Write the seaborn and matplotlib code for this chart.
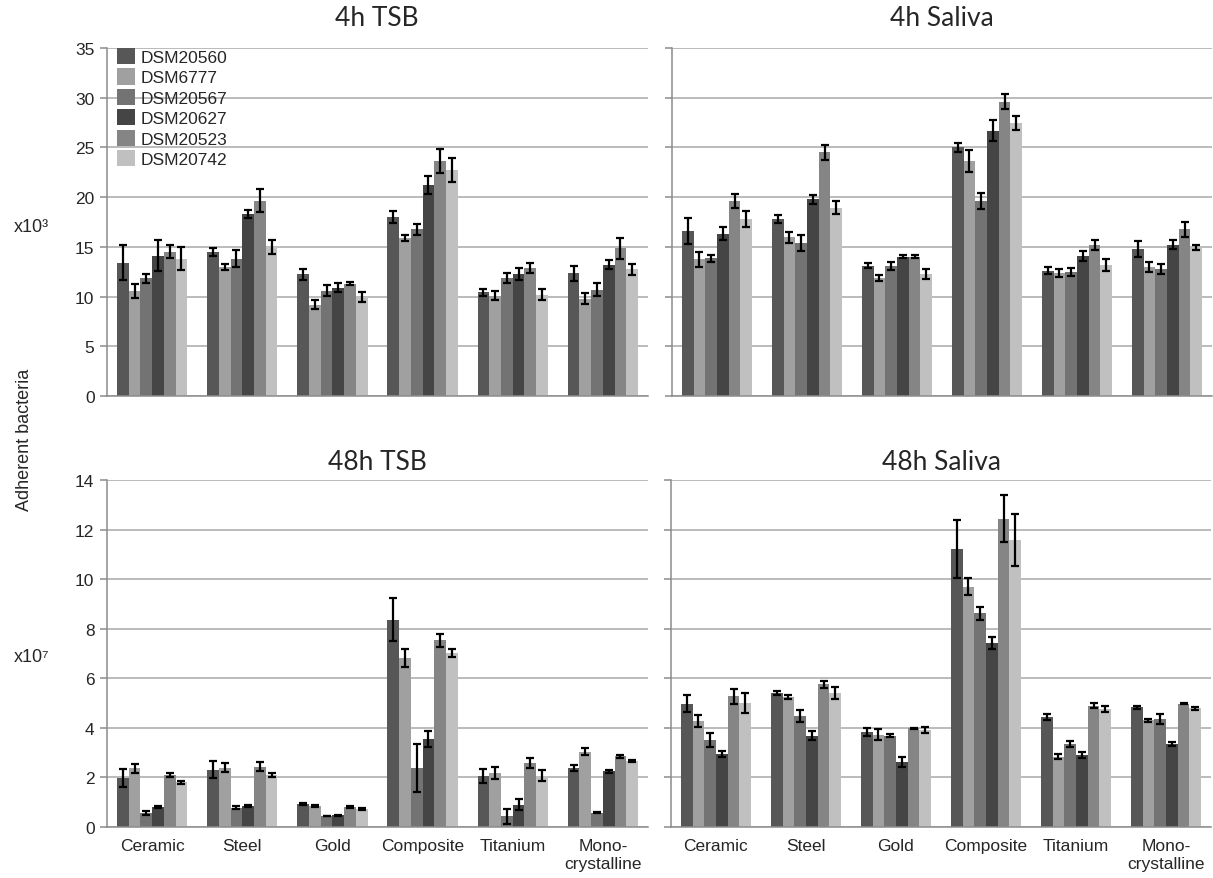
import numpy as np
import pandas as pd
import matplotlib
matplotlib.use("Agg")
import matplotlib.pyplot as plt
from matplotlib.container import BarContainer
import seaborn as sns

materials = ["Ceramic", "Steel", "Gold", "Composite", "Titanium", "Mono-\ncrystalline"]
strains = ["DSM20560", "DSM6777", "DSM20567", "DSM20627", "DSM20523", "DSM20742"]
strain_colors = ["#575757", "#a0a0a0", "#737373", "#454545", "#858585", "#c0c0c0"]

# rows = materials, columns = strains
tsb4_mean = [
    [13.4, 10.55, 11.85, 14.1, 14.5, 13.8],
    [14.5, 12.95, 13.8, 18.3, 19.65, 15.0],
    [12.25, 9.2, 10.6, 10.9, 11.3, 10.0],
    [18.0, 15.9, 16.75, 21.25, 23.6, 22.7],
    [10.45, 10.1, 11.9, 12.25, 12.85, 10.2],
    [12.35, 9.8, 10.7, 13.2, 14.85, 12.75],
]
tsb4_err = [
    [1.75, 0.67, 0.44, 1.56, 0.64, 1.16],
    [0.42, 0.3, 0.86, 0.42, 1.14, 0.7],
    [0.57, 0.45, 0.57, 0.44, 0.12, 0.5],
    [0.6, 0.3, 0.55, 0.9, 1.2, 1.2],
    [0.35, 0.47, 0.5, 0.62, 0.52, 0.59],
    [0.77, 0.54, 0.65, 0.45, 1.06, 0.54],
]
saliva4_mean = [
    [16.6, 13.75, 13.85, 16.3, 19.6, 17.8],
    [17.8, 15.95, 15.4, 19.8, 24.5, 18.95],
    [13.1, 11.85, 13.1, 14.0, 14.0, 12.25],
    [25.0, 23.6, 19.6, 26.7, 29.6, 27.45],
    [12.6, 12.35, 12.5, 14.05, 15.15, 13.2],
    [14.8, 13.0, 12.75, 15.2, 16.75, 14.95],
]
saliva4_err = [
    [1.3, 0.74, 0.35, 0.65, 0.7, 0.83],
    [0.42, 0.57, 0.8, 0.45, 0.78, 0.66],
    [0.27, 0.3, 0.39, 0.15, 0.15, 0.52],
    [0.42, 1.1, 0.8, 1.1, 0.73, 0.7],
    [0.34, 0.39, 0.4, 0.52, 0.49, 0.59],
    [0.8, 0.49, 0.49, 0.44, 0.8, 0.22],
]
tsb48_mean = [
    [1.98, 2.37, 0.58, 0.8, 2.1, 1.8],
    [2.31, 2.4, 0.78, 0.85, 2.44, 2.1],
    [0.93, 0.85, 0.43, 0.47, 0.8, 0.72],
    [8.37, 6.82, 2.38, 3.55, 7.54, 7.02],
    [2.06, 2.17, 0.43, 0.89, 2.58, 2.06],
    [2.38, 3.04, 0.57, 2.24, 2.85, 2.66],
]
tsb48_err = [
    [0.35, 0.18, 0.08, 0.03, 0.09, 0.07],
    [0.35, 0.2, 0.07, 0.03, 0.19, 0.08],
    [0.03, 0.03, 0.0, 0.02, 0.03, 0.05],
    [0.85, 0.38, 0.95, 0.33, 0.26, 0.15],
    [0.3, 0.24, 0.29, 0.22, 0.21, 0.22],
    [0.13, 0.13, 0.02, 0.06, 0.05, 0.04],
]
saliva48_mean = [
    [4.98, 4.28, 3.52, 2.95, 5.28, 5.0],
    [5.39, 5.24, 4.48, 3.68, 5.75, 5.41],
    [3.83, 3.72, 3.69, 2.64, 3.99, 3.91],
    [11.22, 9.7, 8.62, 7.43, 12.44, 11.58],
    [4.45, 2.83, 3.36, 2.91, 4.9, 4.76],
    [4.83, 4.3, 4.36, 3.34, 4.98, 4.79],
]
saliva48_err = [
    [0.33, 0.25, 0.28, 0.12, 0.3, 0.4],
    [0.08, 0.08, 0.26, 0.19, 0.14, 0.24],
    [0.17, 0.23, 0.07, 0.2, 0.02, 0.11],
    [1.18, 0.33, 0.26, 0.23, 0.94, 1.06],
    [0.12, 0.1, 0.12, 0.12, 0.11, 0.12],
    [0.06, 0.05, 0.19, 0.07, 0.03, 0.07],
]

sns.set_style("white")
plt.rcParams['font.family'] = ['Liberation Sans', 'DejaVu Sans']

W, H = 1213, 879
fig = plt.figure(figsize=(W / 100, H / 100), dpi=100)


def px_axes(x0, x1, ytop, ybot):
    return fig.add_axes([x0 / W, 1 - ybot / H, (x1 - x0) / W, (ybot - ytop) / H])


def draw_panel(ax, mean, err, ymax, ystep, show_ylabels, show_xlabels):
    df = pd.DataFrame(mean, index=materials, columns=strains)
    long = df.reset_index().melt(id_vars="index", var_name="strain", value_name="value")
    long = long.rename(columns={"index": "material"})
    sns.barplot(data=long, x="material", y="value", hue="strain",
                order=materials, hue_order=strains, palette=strain_colors,
                width=0.78, errorbar=None, legend=False, ax=ax,
                edgecolor="none", linewidth=0)
    errs = np.array(err)
    bars = [c for c in ax.containers if isinstance(c, BarContainer)]
    # error bars on each bar, one container per strain
    for j, cont in enumerate(bars):
        xs, ys, es = [], [], []
        for p in cont.patches:
            xc = p.get_x() + p.get_width() / 2
            i = int(round(xc))
            xs.append(xc)
            ys.append(p.get_height())
            es.append(errs[i, j])
        ax.errorbar(xs, ys, yerr=es, fmt="none", ecolor="black",
                    elinewidth=1.6, capsize=3, capthick=1.6, zorder=5)

    ax.set_xlim(-0.5, 5.5)
    ax.set_ylim(0, ymax)
    ax.set_yticks(np.arange(0, ymax + 0.01, ystep))
    ax.yaxis.grid(True, color="#a8a8a8", linewidth=1.1)
    ax.xaxis.grid(False)
    ax.set_axisbelow(True)
    for s in ["top", "right"]:
        ax.spines[s].set_visible(False)
    for s in ["left", "bottom"]:
        ax.spines[s].set_color("#8c8c8c")
        ax.spines[s].set_linewidth(1.1)
    ax.set_xlabel("")
    ax.set_ylabel("")
    ax.set_xticks(np.arange(-0.5, 6, 1), minor=True)
    ax.tick_params(axis="x", which="minor", length=7, color="#8c8c8c", width=1.1)
    ax.tick_params(axis="x", which="major", length=0, labelsize=12.5, pad=8)
    ax.tick_params(axis="y", length=5, color="#8c8c8c", width=1.1, labelsize=12.5,
                   left=True, pad=4)
    if not show_xlabels:
        ax.set_xticklabels([])
    if not show_ylabels:
        ax.set_yticklabels([])
    return bars


ax_tl = px_axes(107, 648, 49, 397)
ax_tr = px_axes(672, 1212, 49, 397)
ax_bl = px_axes(107, 648, 481, 828)
ax_br = px_axes(671, 1211, 481, 828)

tl_bars = draw_panel(ax_tl, tsb4_mean, tsb4_err, 35, 5, True, False)
draw_panel(ax_tr, saliva4_mean, saliva4_err, 35, 5, False, False)
draw_panel(ax_bl, tsb48_mean, tsb48_err, 14, 2, True, True)
draw_panel(ax_br, saliva48_mean, saliva48_err, 14, 2, False, True)

ax_tl.legend(tl_bars, strains, loc="upper left",
             bbox_to_anchor=(0.012, 1.01), frameon=False, fontsize=12.5,
             handlelength=1.05, handleheight=1.05, handletextpad=0.3,
             labelspacing=0.2, borderpad=0.2, borderaxespad=0.0)

title_font = ["Lato", "DejaVu Sans"]
fig.text(377 / W, 1 - 19 / H, "4h TSB", ha="center", va="center",
         fontsize=19, family=title_font)
fig.text(942 / W, 1 - 19 / H, "4h Saliva", ha="center", va="center",
         fontsize=19, family=title_font)
fig.text(377 / W, 1 - 462 / H, "48h TSB", ha="center", va="center",
         fontsize=19, family=title_font)
fig.text(941 / W, 1 - 462 / H, "48h Saliva", ha="center", va="center",
         fontsize=19, family=title_font)

fig.text(14 / W, 1 - 228 / H, "x10³", ha="left", va="center", fontsize=13)
fig.text(14 / W, 1 - 658 / H, "x10⁷", ha="left", va="center", fontsize=13)
fig.text(25 / W, 1 - 440 / H, "Adherent bacteria", ha="center", va="center",
         rotation=90, fontsize=13)

fig.savefig("out.png", dpi=100)
